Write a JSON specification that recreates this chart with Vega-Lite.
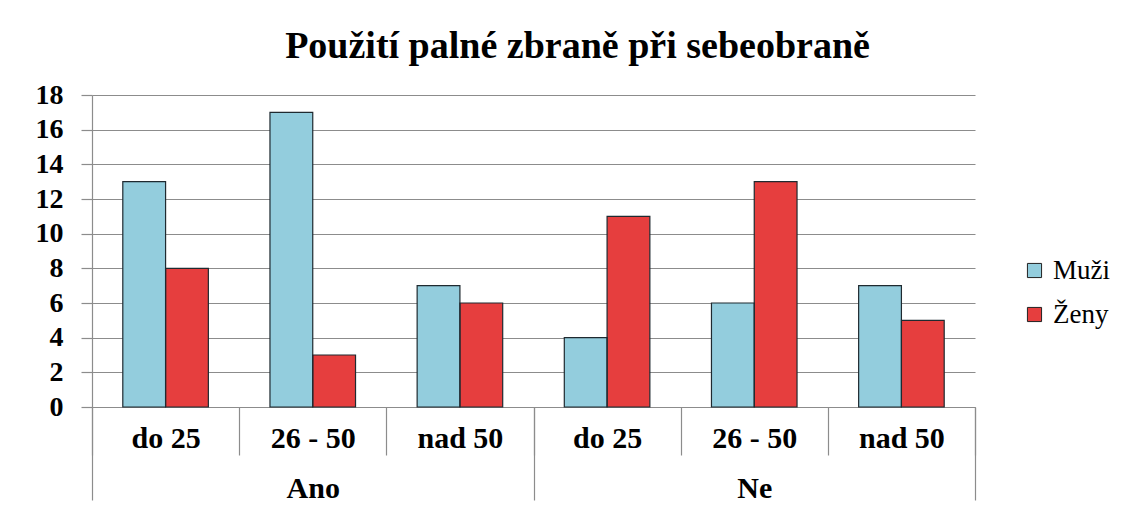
{
  "$schema": "https://vega.github.io/schema/vega-lite/v6.json",
  "autosize": {"type": "none"},
  "width": 883,
  "height": 312,
  "padding": {"left": 92, "top": 95, "right": 164, "bottom": 103},
  "background": "white",
  "title": {
    "text": "Použití palné zbraně při sebeobraně",
    "font": "Liberation Serif",
    "fontSize": 38,
    "fontWeight": "bold",
    "color": "black",
    "anchor": "middle",
    "dx": 44,
    "offset": 15
  },
  "data": {
    "values": [
      {"skupina": "Ano|do 25", "pohlavi": "Muži", "pocet": 13},
      {"skupina": "Ano|do 25", "pohlavi": "Ženy", "pocet": 8},
      {"skupina": "Ano|26 - 50", "pohlavi": "Muži", "pocet": 17},
      {"skupina": "Ano|26 - 50", "pohlavi": "Ženy", "pocet": 3},
      {"skupina": "Ano|nad 50", "pohlavi": "Muži", "pocet": 7},
      {"skupina": "Ano|nad 50", "pohlavi": "Ženy", "pocet": 6},
      {"skupina": "Ne|do 25", "pohlavi": "Muži", "pocet": 4},
      {"skupina": "Ne|do 25", "pohlavi": "Ženy", "pocet": 11},
      {"skupina": "Ne|26 - 50", "pohlavi": "Muži", "pocet": 6},
      {"skupina": "Ne|26 - 50", "pohlavi": "Ženy", "pocet": 13},
      {"skupina": "Ne|nad 50", "pohlavi": "Muži", "pocet": 7},
      {"skupina": "Ne|nad 50", "pohlavi": "Ženy", "pocet": 5}
    ]
  },
  "encoding": {
    "y": {
      "field": "pocet",
      "type": "quantitative",
      "scale": {"domain": [0, 18], "nice": false},
      "axis": {
        "title": null,
        "values": [0, 2, 4, 6, 8, 10, 12, 14, 16, 18],
        "labelFont": "Liberation Serif",
        "labelFontSize": 28,
        "labelFontWeight": "bold",
        "labelColor": "black",
        "tickSize": 11,
        "labelPadding": 18,
        "tickColor": "#8c8c8c",
        "domainColor": "#8c8c8c",
        "gridColor": "#8c8c8c",
        "gridOpacity": 1,
        "gridWidth": 1.2,
        "tickWidth": 1.2,
        "domainWidth": 1.2
      }
    },
    "xOffset": {
      "field": "pohlavi",
      "type": "nominal",
      "sort": ["Muži", "Ženy"],
      "scale": {"paddingInner": 0, "paddingOuter": 0.72}
    }
  },
  "layer": [
    {
      "mark": {"type": "bar"},
      "encoding": {
        "x": {
          "field": "skupina",
          "type": "nominal",
          "sort": null,
          "scale": {"paddingInner": 0, "paddingOuter": 0},
          "axis": {
            "title": null,
            "orient": "bottom",
            "labelExpr": "split(datum.label, '|')[1]",
            "labelAngle": 0,
            "labelFont": "Liberation Serif",
            "labelFontSize": 30,
            "labelFontWeight": "bold",
            "labelColor": "black",
            "labelBaseline": "alphabetic",
            "tickBand": "extent",
            "tickSize": 48,
            "labelPadding": -8,
            "tickColor": "#8c8c8c",
            "domainColor": "#8c8c8c",
            "tickWidth": 1.2,
            "domainWidth": 1.2,
            "grid": false
          }
        },
        "color": {
          "field": "pohlavi",
          "type": "nominal",
          "sort": ["Muži", "Ženy"],
          "scale": {"domain": ["Muži", "Ženy"], "range": ["#93CDDD", "#E63E3E"]},
          "legend": {
            "title": null,
            "orient": "none",
            "legendX": 929,
            "legendY": 162,
            "symbolType": "square",
            "symbolSize": 200,
            "symbolStrokeColor": "#222222",
            "symbolStrokeWidth": 1,
            "labelFont": "Liberation Serif",
            "labelFontSize": 27,
            "labelColor": "black",
            "labelOffset": 5,
            "rowPadding": 16
          }
        }
      }
    },
    {
      "mark": {"type": "bar", "filled": false, "stroke": "#1f2a30", "strokeWidth": 1.2},
      "encoding": {
        "x": {
          "field": "skupina",
          "type": "nominal",
          "sort": null,
          "scale": {"paddingInner": 0, "paddingOuter": 0},
          "axis": {
            "title": null,
            "orient": "bottom",
            "domain": false,
            "labelExpr": "split(datum.label, '|')[1] == '26 - 50' ? split(datum.label, '|')[0] : ''",
            "labelAngle": 0,
            "labelFont": "Liberation Serif",
            "labelFontSize": 30,
            "labelFontWeight": "bold",
            "labelColor": "black",
            "labelBaseline": "alphabetic",
            "tickBand": "extent",
            "tickSize": 93,
            "labelPadding": -3,
            "tickColor": "#8c8c8c",
            "tickWidth": 1.2,
            "tickOpacity": {"condition": {"test": "!datum.value || datum.value == 'Ano|nad 50' || datum.value == 'Ne|nad 50'", "value": 1}, "value": 0},
            "grid": false
          }
        }
      }
    }
  ],
  "resolve": {"axis": {"x": "independent"}},
  "config": {"view": {"stroke": null}}
}
